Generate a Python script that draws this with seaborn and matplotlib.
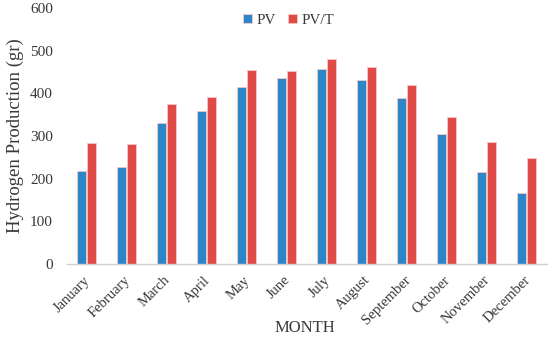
import pandas as pd
import numpy as np
import matplotlib.pyplot as plt
import matplotlib.transforms as mtransforms
import seaborn as sns

# Values
months = ['January', 'February', 'March', 'April', 'May', 'June', 'July',
          'August', 'September', 'October', 'November', 'December']
pv = [219, 227, 330, 359, 414, 437, 457, 431, 389, 305, 215, 166]
pvt = [283, 282, 374, 391, 455, 452, 481, 461, 420, 345, 285, 248]
series = ['PV', 'PV/T']

df = pd.DataFrame({
    'month': months * 2,
    'value': pv + pvt,
    'system': [series[0]] * len(months) + [series[1]] * len(months),
})

sns.set_style('white')
plt.rcParams['font.family'] = ['Liberation Serif', 'DejaVu Serif']

fig = plt.figure(figsize=(5.5, 3.37), dpi=100)
ax = fig.add_axes([0.1213, 0.217, 0.8727, 0.759])

sns.barplot(data=df, x='month', y='value', hue='system', order=months,
            palette=['#2E86C8', '#E04B47'], saturation=1, width=0.525, gap=0.14,
            edgecolor='#f4c8c4', linewidth=0.6, ax=ax)

ax.set_ylim(0, 600)
ax.set_yticks(range(0, 601, 100))
ax.set_xlim(-0.5, 11.5)
text_color = '#383838'
ax.tick_params(axis='y', labelsize=11, colors=text_color, length=0, pad=10)
ax.tick_params(axis='x', labelsize=10.5, colors=text_color, length=0, pad=7)
shift = mtransforms.ScaledTranslation(-3 / 100, 0, fig.dpi_scale_trans)
for lbl in ax.get_xticklabels():
    lbl.set_rotation(45)
    lbl.set_ha('right')
    lbl.set_rotation_mode('anchor')
    lbl.set_transform(lbl.get_transform() + shift)

for side in ['top', 'right', 'left']:
    ax.spines[side].set_visible(False)
ax.spines['bottom'].set_color('#d0d0d0')
ax.spines['bottom'].set_linewidth(1.0)

ax.set_ylabel('Hydrogen Production (gr)', fontsize=13.5, color=text_color, labelpad=4)
ax.set_xlabel('MONTH', fontsize=12, color=text_color)
ax.xaxis.set_label_coords(0.496, -0.218)

leg = ax.legend(loc='upper center', bbox_to_anchor=(0.463, 1.03), ncol=2, frameon=False,
                fontsize=10.8, handlelength=0.6, handleheight=0.6, handletextpad=0.3,
                columnspacing=0.8)
for t in leg.get_texts():
    t.set_color(text_color)

plt.savefig('out.png', dpi=100)
